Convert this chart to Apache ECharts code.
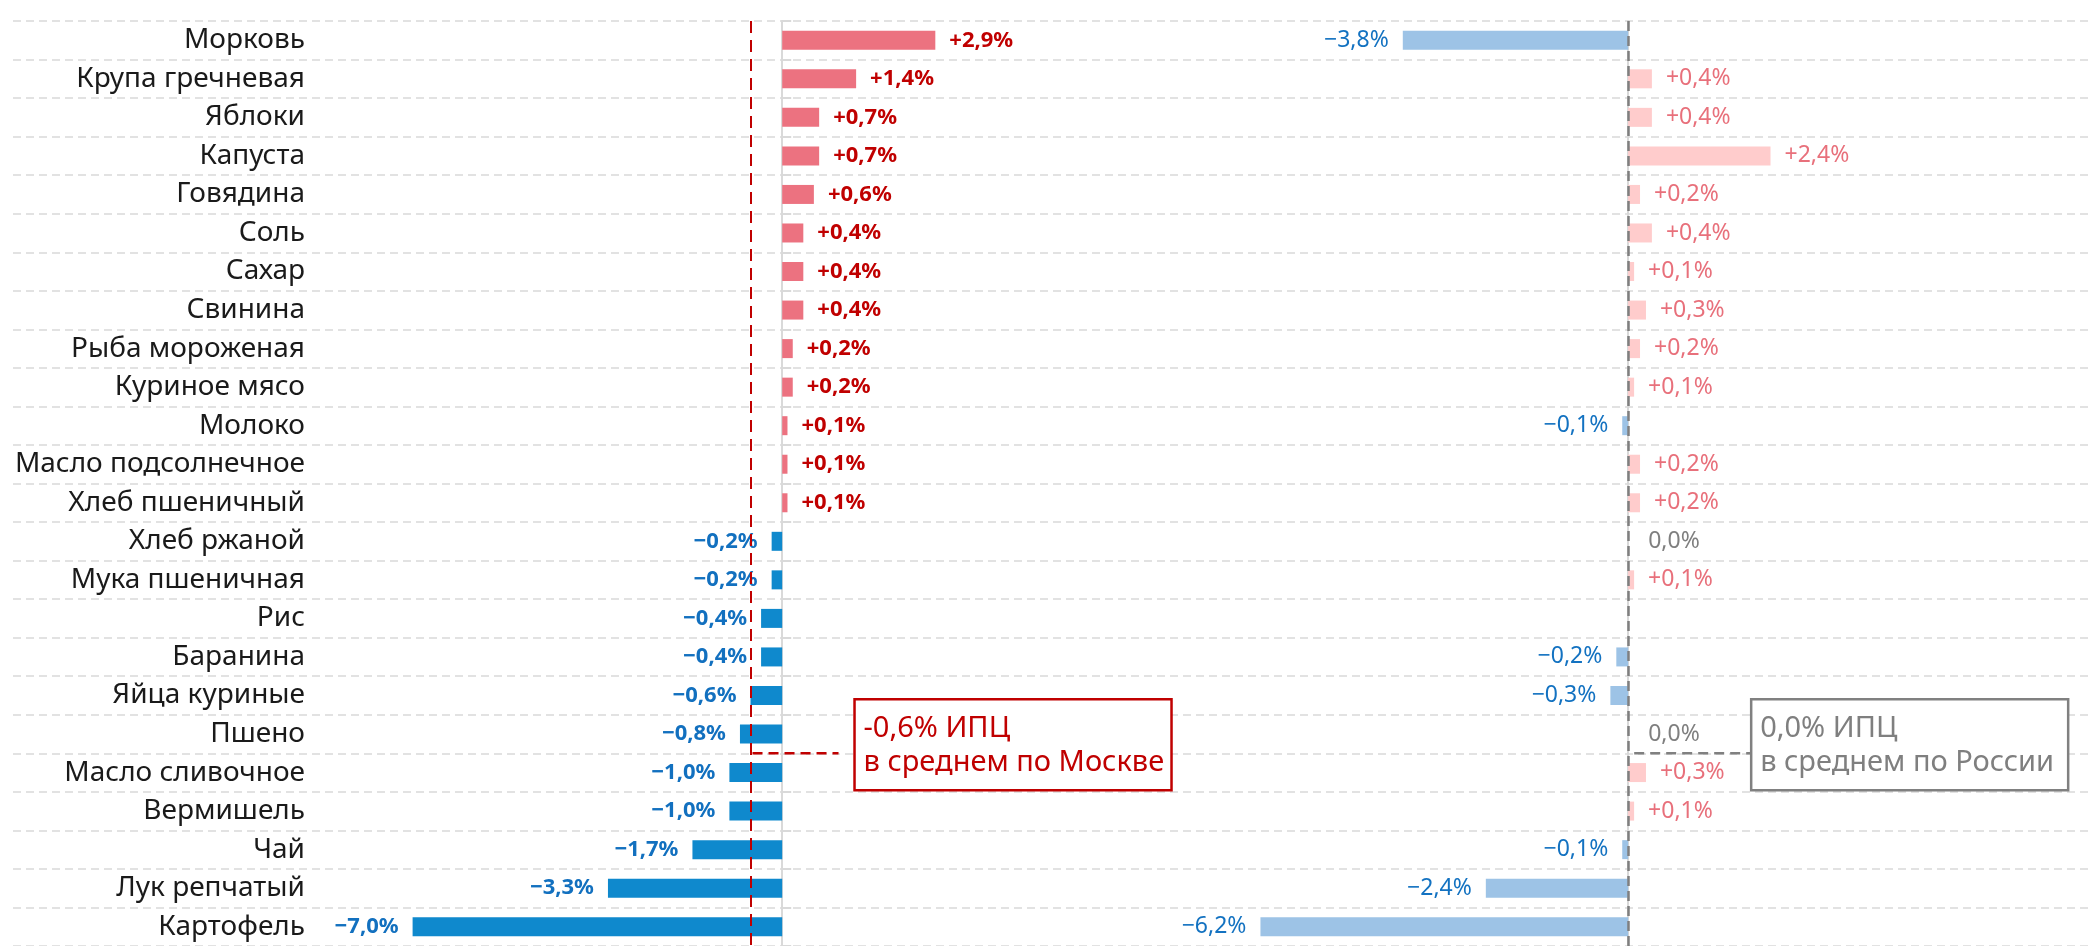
<!DOCTYPE html>
<html lang="ru">
<head>
<meta charset="UTF-8" />
<title>ИПЦ</title>
<style>
  body { margin: 0; padding: 0; background: #fff; }
  .chart { width: 2091px; height: 946px; }
</style>
</head>
<body>
<div class="chart"></div>
<script src="https://cdn.jsdelivr.net/npm/echarts@6/dist/echarts.min.js"></script>
<script>
// данные
const categories = [
  'Морковь', 'Крупа гречневая', 'Яблоки', 'Капуста', 'Говядина', 'Соль', 'Сахар', 'Свинина',
  'Рыба мороженая', 'Куриное мясо', 'Молоко', 'Масло подсолнечное', 'Хлеб пшеничный', 'Хлеб ржаной',
  'Мука пшеничная', 'Рис', 'Баранина', 'Яйца куриные', 'Пшено', 'Масло сливочное', 'Вермишель',
  'Чай', 'Лук репчатый', 'Картофель'
];
const moscowValues = [2.9, 1.4, 0.7, 0.7, 0.6, 0.4, 0.4, 0.4, 0.2, 0.2, 0.1, 0.1, 0.1, -0.2,
  -0.2, -0.4, -0.4, -0.6, -0.8, -1.0, -1.0, -1.7, -3.3, -7.0];
const russiaValues = [-3.8, 0.4, 0.4, 2.4, 0.2, 0.4, 0.1, 0.3, 0.2, 0.1, -0.1, 0.2, 0.2, 0.0,
  0.1, null, -0.2, -0.3, 0.0, 0.3, 0.1, -0.1, -2.4, -6.2];
const moscowCpi = -0.6;
const russiaCpi = 0.0;
const moscowText = ['-0,6% ИПЦ', 'в среднем по Москве'];
const russiaText = ['0,0% ИПЦ', 'в среднем по России'];

const FONT = 'Noto Sans';

function fmt(v) {
  const s = v > 0 ? '+' : (v < 0 ? '\u2212' : '');
  return s + Math.abs(v).toFixed(1).replace('.', ',') + '%';
}

const moscowData = moscowValues.map(v => ({
  value: v,
  itemStyle: { color: v >= 0 ? '#ec7280' : '#0f89cd' },
  label: {
    position: v >= 0 ? 'right' : 'left',
    color: v >= 0 ? '#c00000' : '#1270bf'
  }
}));

const russiaData = russiaValues.map(v => {
  if (v === null) return '-';
  let color = '#e8707b', pos = 'right', dist = 14;
  if (v < 0) { color = '#1372c1'; pos = 'left'; }
  if (v === 0) { color = '#7f7f7f'; dist = 20; }
  return {
    value: v,
    itemStyle: { color: v >= 0 ? '#ffcccc' : '#9dc3e6' },
    label: { position: pos, color: color, distance: dist }
  };
});

const chart = echarts.init(document.querySelector('.chart'));

const catAxis = {
  type: 'category',
  data: categories,
  inverse: true,
  axisLabel: { show: false, interval: 0 },
  axisTick: { show: false, interval: 0 },
  axisLine: { show: false },
  splitLine: { show: false }
};

const option = {
  animation: false,
  grid: [
    { left: 13, right: 0, top: 21, bottom: 0 },
    { left: 307, width: 660, top: 21, bottom: 0 },
    { left: 1213, width: 860, top: 21, bottom: 0 }
  ],
  xAxis: [
    { gridIndex: 0, type: 'value', min: 0, max: 1, show: false },
    { gridIndex: 1, type: 'value', min: -9, max: 3.5, show: false },
    { gridIndex: 2, type: 'value', min: -7, max: 7.5, show: false }
  ],
  yAxis: [
    Object.assign({}, catAxis, {
      gridIndex: 0,
      splitLine: {
        show: true, interval: 0,
        lineStyle: { color: '#d9d9d9', width: 1.5, type: [8, 5] }
      }
    }),
    Object.assign({}, catAxis, {
      gridIndex: 1,
      axisLine: { show: false, onZero: false },
      axisLabel: {
        show: true, interval: 0, margin: 2,
        fontFamily: FONT, fontSize: 28, color: '#1a1a1a'
      }
    }),
    Object.assign({}, catAxis, {
      gridIndex: 1,
      axisLine: { show: true, onZero: true, lineStyle: { color: '#d9d9d9', width: 2 } },
      axisTick: { show: true, interval: 0, length: 9, lineStyle: { color: '#d9d9d9', width: 2 } }
    }),
    Object.assign({}, catAxis, {
      gridIndex: 2,
      axisLine: { show: true, onZero: true, lineStyle: { color: '#d9d9d9', width: 2 } }
    })
  ],
  series: [
    {
      name: 'Москва',
      type: 'bar',
      xAxisIndex: 1,
      yAxisIndex: 1,
      barWidth: 19,
      data: moscowData,
      label: {
        show: true,
        distance: 14,
        fontFamily: FONT,
        fontSize: 22,
        fontWeight: 'bold',
        formatter: p => fmt(p.value)
      },
      markLine: {
        silent: true,
        symbol: 'none',
        label: { show: false },
        lineStyle: { color: '#c00000', width: 2, type: [12, 7] },
        data: [{ xAxis: moscowCpi }]
      }
    },
    {
      name: 'Россия',
      type: 'bar',
      xAxisIndex: 2,
      yAxisIndex: 3,
      barWidth: 19,
      data: russiaData,
      label: {
        show: true,
        fontFamily: FONT,
        fontSize: 23,
        formatter: p => fmt(p.value)
      },
      markLine: {
        silent: true,
        symbol: 'none',
        label: { show: false },
        lineStyle: { color: '#7f7f7f', width: 2.5, type: [10, 5] },
        data: [{ xAxis: russiaCpi }]
      }
    }
  ]
};

chart.setOption(option);

// подписи ИПЦ: якорь на границе строк «Пшено» / «Масло сливочное»
const rowA = categories.indexOf('Пшено');
function anchor(seriesIndex, x) {
  const a = chart.convertToPixel({ seriesIndex: seriesIndex }, [x, rowA]);
  const b = chart.convertToPixel({ seriesIndex: seriesIndex }, [x, rowA + 1]);
  return [a[0], (a[1] + b[1]) / 2];
}

function callout(pt, gap, lineStart, lineGap, color, textColor, lines) {
  const boxX = pt[0] + gap;
  const boxY = pt[1] - 54;
  return [
    {
      type: 'line',
      shape: { x1: pt[0] + lineStart, y1: pt[1], x2: boxX - lineGap, y2: pt[1] },
      style: { stroke: color, lineWidth: 2.5, lineDash: [10, 6] },
      z: 10
    },
    {
      type: 'rect',
      shape: { x: boxX, y: boxY, width: 317, height: 91 },
      style: { fill: '#fff', stroke: color, lineWidth: 2.5 },
      z: 10
    },
    {
      type: 'text',
      x: boxX + 9, y: pt[1] - 25,
      style: { text: lines[0], fill: textColor, font: '29px "' + FONT + '"', verticalAlign: 'middle' },
      z: 11
    },
    {
      type: 'text',
      x: boxX + 9, y: pt[1] + 9,
      style: { text: lines[1], fill: textColor, font: '29px "' + FONT + '"', verticalAlign: 'middle' },
      z: 11
    }
  ];
}

const mPt = anchor(0, moscowCpi);
const rPt = anchor(1, russiaCpi);
chart.setOption({
  graphic: [].concat(
    callout(mPt, 104, 2, 16, '#c00000', '#c00000', moscowText),
    callout(rPt, 123, 6, 0, '#808080', '#7f7f7f', russiaText)
  )
});
</script>
</body>
</html>
